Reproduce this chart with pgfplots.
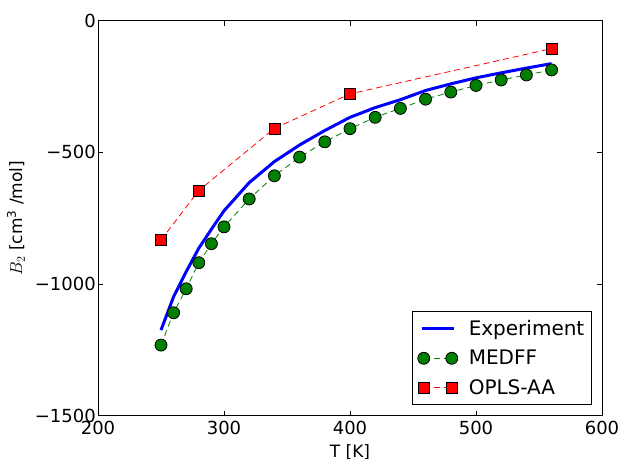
\documentclass[border=0pt]{standalone}
\usepackage{fontspec}
\setmainfont{DejaVu Sans}
\usepackage{pgfplots}
\pgfplotsset{compat=1.18}

\definecolor{mgreen}{rgb}{0,0.5,0}

\pgfplotsset{
    twomarks/.style={legend image code/.code={\draw[##1] plot coordinates {(2pt,0pt) (30pt,0pt)};}},
    longline/.style={legend image code/.code={\draw[##1] (0pt,0pt) -- (32pt,0pt);}},
}

\begin{document}
\begin{tikzpicture}[font=\fontsize{17}{20}\selectfont]
\begin{axis}[
    at={(0,0)}, anchor=south west,
    scale only axis,
    width=504pt, height=395pt,
    xmin=200, xmax=600,
    ymin=-1500, ymax=0,
    xtick={200,300,400,500,600},
    xticklabels={200,300,400,500,600},
    ytick={-1500,-1000,-500,0},
    yticklabels={−1500,−1000,−500,0},
    tick align=inside,
    major tick length=5pt,
    axis line style={line width=0.8pt},
    tick style={line width=0.8pt, black},
    xticklabel style={font=\fontsize{18}{21}\selectfont, inner sep=5pt},
    yticklabel style={font=\fontsize{18}{21}\selectfont, inner sep=2pt},
    xlabel={T [K]},
    ylabel={$B_2$ [cm\textsuperscript{3} /mol]},
    xlabel style={at={(axis description cs:0.5,0)}, anchor=north, yshift=-29pt, inner sep=0pt},
    ylabel style={at={(axis description cs:0,0.5)}, anchor=south, yshift=73pt, inner sep=0pt},
    legend cell align=left,
    legend style={
        at={(rel axis cs:0.9796,0.027)}, anchor=south east,
        draw=black, line width=0.8pt,
        font=\fontsize{20}{24}\selectfont,
        row sep=9pt, inner xsep=5pt, inner ysep=7pt,
        /tikz/every odd column/.append style={column sep=9pt},
    },
]
\addplot[blue, line width=3pt, longline] coordinates {
    (250,-1175) (260,-1048) (270,-953) (280,-864) (290,-792) (300,-722)
    (320,-615) (340,-535) (360,-472) (380,-417) (400,-367) (420,-330)
    (440,-300) (460,-265) (480,-240) (500,-217) (520,-198) (540,-180) (560,-163)
};
\addlegendentry{Experiment}

\addplot[mgreen, line width=0.8pt, dash pattern=on 6pt off 4pt,
    mark=*, mark size=6pt, mark options={solid, fill=mgreen, draw=black, line width=0.8pt},
    twomarks] coordinates {
    (250,-1232) (260,-1109) (270,-1018) (280,-919) (290,-847) (300,-783)
    (320,-677) (340,-589) (360,-518) (380,-460) (400,-410) (420,-367)
    (440,-333) (460,-298) (480,-271) (500,-246) (520,-225) (540,-206) (560,-187)
};
\addlegendentry{MEDFF}

\addplot[red, line width=0.8pt, dash pattern=on 6pt off 4pt,
    mark=square*, mark size=5.5pt, mark options={solid, fill=red, draw=black, line width=0.8pt},
    twomarks] coordinates {
    (250,-833) (280,-645) (340,-409) (400,-278) (560,-106)
};
\addlegendentry{OPLS-AA}
\end{axis}
\pgfresetboundingbox
\path[use as bounding box] (-98pt,-42.3pt) rectangle (523pt,415.7pt);
\end{tikzpicture}
\end{document}
